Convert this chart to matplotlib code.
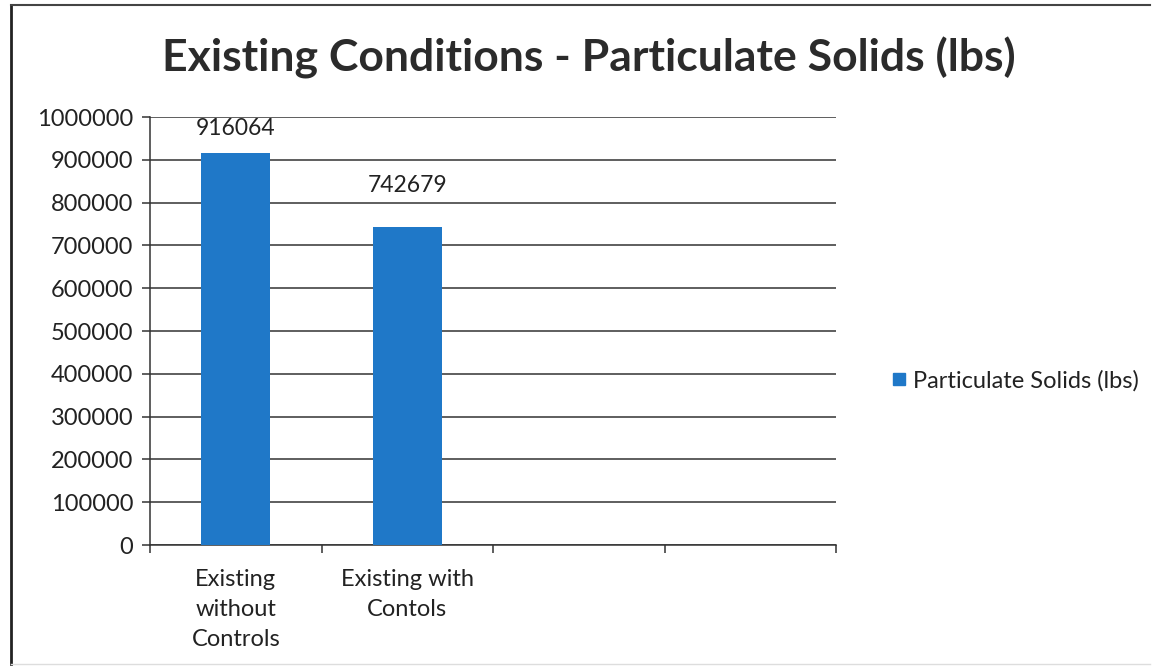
import matplotlib.pyplot as plt
from matplotlib.lines import Line2D

categories = ['Existing\nwithout\nControls', 'Existing with\nContols', '', '']
values = [916064, 742679, None, None]
series_name = 'Particulate Solids (lbs)'
title = 'Existing Conditions - Particulate Solids (lbs)'
y_ticks = list(range(0, 1000001, 100000))

plt.rcParams['font.family'] = ['Lato', 'DejaVu Sans']

fig = plt.figure(figsize=(11.54, 6.72), dpi=100)
ax = fig.add_axes([150 / 1154, 1 - 545 / 672, 686 / 1154, 428 / 672])

bar_color = '#1F78C8'
xs = [i for i, v in enumerate(values) if v is not None]
vals = [v for v in values if v is not None]
bars = ax.bar(xs, vals, width=0.4, color=bar_color, zorder=3, label=series_name)

# value labels above the bars, kept inside the plot area like Excel does
label_gap = 0.098 * y_ticks[-1]
label_max = 0.974 * y_ticks[-1]
for b, v in zip(bars, vals):
    ax.text(b.get_x() + b.get_width() / 2, min(v + label_gap, label_max), str(v),
            ha='center', va='center', fontsize=16.5, color='#222222')

ax.set_xlim(-0.5, len(categories) - 0.5)
ax.set_ylim(0, 1000000)
ax.set_yticks(y_ticks)
ax.set_yticklabels([str(t) for t in y_ticks], fontsize=17, color='#222222')
ax.yaxis.grid(True, color='#333333', linewidth=1.1, zorder=0)
ax.set_axisbelow(True)

# category ticks at boundaries, labels centred
ax.set_xticks([i - 0.5 for i in range(len(categories) + 1)])
ax.set_xticklabels([])
ax.set_xticks(range(len(categories)), minor=True)
ax.set_xticklabels(categories, minor=True, fontsize=17, color='#222222', linespacing=1.55)
ax.tick_params(axis='x', which='major', length=6, width=1.1, direction='out', color='#333333')
ax.tick_params(axis='x', which='minor', length=0, pad=17)
ax.tick_params(axis='y', length=6, width=1.1, direction='out', color='#333333', pad=6)

for s in ['top', 'right']:
    ax.spines[s].set_visible(False)
ax.spines['left'].set_color('#333333')
ax.spines['bottom'].set_color('#333333')
ax.spines['left'].set_linewidth(1.1)
ax.spines['bottom'].set_linewidth(1.1)

fig.text(589 / 1154, 1 - 58 / 672, title, ha='center', va='center', fontsize=32,
         fontweight='bold', color='#2b2b2b')

handle = Line2D([], [], marker='s', linestyle='none', markersize=8,
                markerfacecolor=bar_color, markeredgecolor=bar_color)
fig.legend([handle], [series_name], loc='center left', bbox_to_anchor=(866 / 1154, 1 - 381 / 672),
           frameon=False, fontsize=17, handletextpad=0.1, handlelength=1.0, labelcolor='#222222')

# outer frame
fig.add_artist(Line2D([11 / 1154, 11 / 1154], [1 - 664 / 672, 1 - 5 / 672], color='#222222', lw=2,
                      transform=fig.transFigure))
fig.add_artist(Line2D([11 / 1154, 1150 / 1154], [1 - 5 / 672, 1 - 5 / 672], color='#444444', lw=1.5,
                      transform=fig.transFigure))
fig.add_artist(Line2D([11 / 1154, 1150 / 1154], [1 - 664 / 672, 1 - 664 / 672], color='#dddddd', lw=1,
                      transform=fig.transFigure))

fig.savefig('out.png', dpi=100)
